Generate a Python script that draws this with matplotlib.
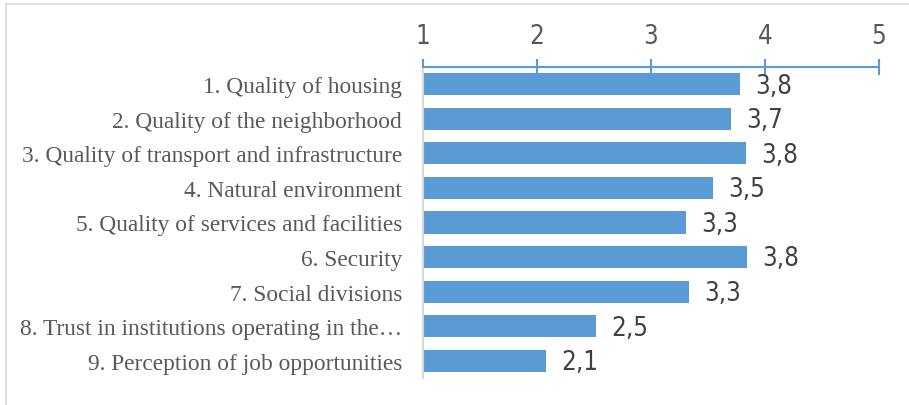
import numpy as np
import matplotlib.pyplot as plt
from matplotlib.lines import Line2D

# survey items and mean scores (scale 1-5)
categories = ['1. Quality of housing',
              '2. Quality of the neighborhood',
              '3. Quality of transport and infrastructure',
              '4. Natural environment',
              '5. Quality of services and facilities',
              '6. Security',
              '7. Social divisions',
              '8. Trust in institutions operating in the\u2026',
              '9. Perception of job opportunities']
scores = [3.78, 3.70, 3.83, 3.54, 3.31, 3.84, 3.33, 2.52, 2.08]
ticks = [1, 2, 3, 4, 5]

bar_color = '#5B9BD5'
narrow = dict(family='DejaVu Sans', stretch='condensed')
serif = ['Liberation Serif', 'DejaVu Serif']

fig = plt.figure(figsize=(9.09, 4.06), dpi=100)
ax = fig.add_axes([423/909, 1 - 379/406, (879 - 423)/909, (379 - 68)/406])

y = np.arange(len(categories))
ax.barh(y, np.array(scores) - 1, left=1, height=0.64, color=bar_color)

# value labels, decimal comma
for yi, v in zip(y, scores):
    ax.annotate(f'{v:.1f}'.replace('.', ','), (v, yi), xytext=(11, -1),
                textcoords='offset points', va='center', ha='left',
                fontsize=18.5, color='#404040', **narrow)

ax.set_xlim(1, 5)
ax.set_ylim(len(categories) - 0.5, -0.5)
ax.set_xticks(ticks)
ax.set_xticklabels([str(t) for t in ticks], fontsize=18.5, color='#595959', **narrow)
ax.xaxis.tick_top()
ax.tick_params(axis='x', direction='inout', length=11.5, width=1.5, color=bar_color, pad=7)

ax.set_yticks(y)
ax.set_yticklabels(categories, family=serif, fontsize=16.8, color='#595959')
ax.tick_params(axis='y', length=0, pad=15)

for side in ['right', 'bottom']:
    ax.spines[side].set_visible(False)
ax.spines['top'].set_color(bar_color)
ax.spines['top'].set_linewidth(1.5)
ax.spines['left'].set_color('#D9D9D9')
ax.spines['left'].set_linewidth(1.5)

# chart frame
fig.add_artist(Line2D([6/909, 1], [1 - 5/406, 1 - 5/406], color='#D9D9D9', lw=1.2))
fig.add_artist(Line2D([6/909, 6/909], [0, 1 - 5/406], color='#D9D9D9', lw=1.2))

fig.savefig('out.png', dpi=100)
